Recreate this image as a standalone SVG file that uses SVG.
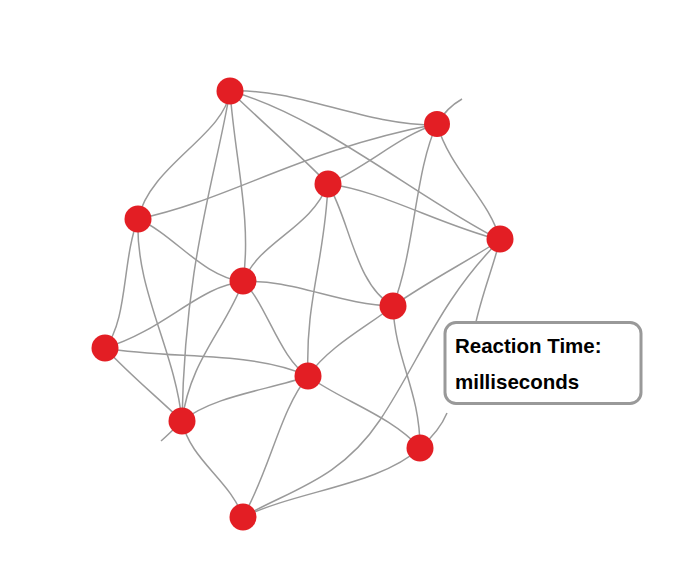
<svg xmlns="http://www.w3.org/2000/svg" width="680" height="575" viewBox="0 0 680 575">
<style>
.e{fill:none;stroke:#9a9a9a;stroke-width:1.5}
.n{fill:#e31e24}
.lbl{font-family:"Liberation Sans",Arial,sans-serif;font-weight:bold;font-size:20.5px;fill:#000}
</style>
<rect width="680" height="575" fill="#fff"/>
<g id="connectors">
<path class="e" d="M230,91 C300,88 360,125 437,125"/>
<path class="e" d="M230,91 C320,115 420,200 500,240"/>
<path class="e" d="M230,91 C260,120 300,155 328,184"/>
<path class="e" d="M230,91 C225,135 150,165 138,219"/>
<path class="e" d="M230,91 C215,180 185,260 182,421"/>
<path class="e" d="M230,91 C235,160 252,220 243,282"/>
<path class="e" d="M138,219 C230,200 300,150 437,124"/>
<path class="e" d="M138,219 C175,235 200,275 243,282"/>
<path class="e" d="M138,219 C122,260 128,320 105,348"/>
<path class="e" d="M138,219 C135,290 175,350 182,421"/>
<path class="e" d="M328,184 C370,165 400,135 437,124"/>
<path class="e" d="M328,184 C380,190 440,225 500,240"/>
<path class="e" d="M328,184 C310,230 260,240 243,282"/>
<path class="e" d="M328,184 C350,220 355,285 393,306"/>
<path class="e" d="M328,184 C325,260 305,300 308,376"/>
<path class="e" d="M243,282 C290,278 340,305 393,306"/>
<path class="e" d="M243,282 C200,285 165,330 105,348"/>
<path class="e" d="M243,282 C225,330 190,360 182,421"/>
<path class="e" d="M243,282 C265,300 280,360 308,376"/>
<path class="e" d="M437,124 C415,170 415,250 393,306"/>
<path class="e" d="M437,124 C450,170 490,200 500,240"/>
<path class="e" d="M437,124 C445,110 455,103 462,99"/>
<path class="e" d="M500,240 C470,260 430,280 393,306"/>
<path class="e" d="M500,240 C440,300 420,360 380,420 S290,490 243,517"/>
<path class="e" d="M500,240 C492,270 482,295 476,322"/>
<path class="e" d="M105,348 C170,360 250,350 308,376"/>
<path class="e" d="M105,348 C130,375 155,395 182,421"/>
<path class="e" d="M308,376 C330,345 370,325 393,306"/>
<path class="e" d="M182,421 C215,395 270,390 308,376"/>
<path class="e" d="M308,376 C280,410 270,470 243,517"/>
<path class="e" d="M308,376 C340,400 390,415 420,448"/>
<path class="e" d="M393,306 C395,360 420,390 420,448"/>
<path class="e" d="M182,421 C190,460 230,480 243,517"/>
<path class="e" d="M243,517 C300,490 380,485 420,448"/>
<path class="e" d="M420,448 C435,435 442,425 447,413"/>
<path class="e" d="M182,421 C175,428 168,435 161,441"/>
</g>
<g id="nA"><circle class="n" cx="230" cy="91" r="13.5"/></g>
<g id="nB"><circle class="n" cx="437" cy="124" r="13"/></g>
<g id="nC"><circle class="n" cx="328" cy="184" r="13.5"/></g>
<g id="nD"><circle class="n" cx="138" cy="219" r="13.5"/></g>
<g id="nE"><circle class="n" cx="500" cy="239" r="13.5"/></g>
<g id="nF"><circle class="n" cx="243" cy="281" r="13.5"/></g>
<g id="nG"><circle class="n" cx="393" cy="306" r="13.5"/></g>
<g id="nH"><circle class="n" cx="105" cy="348" r="13.5"/></g>
<g id="nI"><circle class="n" cx="308" cy="376" r="13.5"/></g>
<g id="nJ"><circle class="n" cx="182" cy="421" r="13.5"/></g>
<g id="nK"><circle class="n" cx="420" cy="448" r="13.5"/></g>
<g id="nL"><circle class="n" cx="243" cy="517" r="13.5"/></g>
<g id="label">
<rect x="445" y="322.5" width="196" height="81" rx="11" fill="#fff" stroke="#999" stroke-width="3"/>
<text class="lbl" x="455" y="353">Reaction Time:</text>
<text class="lbl" x="455" y="389">milliseconds</text>
</g>
</svg>
